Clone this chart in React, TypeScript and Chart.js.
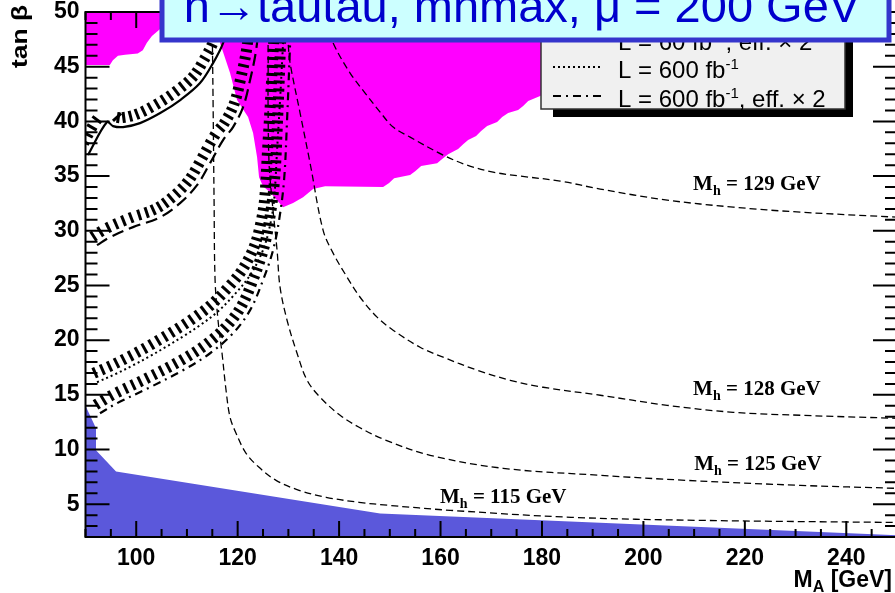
import React, { useEffect, useRef } from "react";
import { Chart, registerables } from "chart.js";

Chart.register(...registerables);

const SANS = '"Liberation Sans", Arial, Helvetica, sans-serif';
const SERIF = '"Liberation Serif", "Times New Roman", serif';

// Axis ranges and labelled ticks
const xRange = [90, 250];
const yRange = [2, 50];
const xTickLabels = [100, 120, 140, 160, 180, 200, 220, 240];
const yTickLabels = [5, 10, 15, 20, 25, 30, 35, 40, 45, 50];

// LEP excluded region (blue)
const lepMA = [90, 92.07, 92.07, 96.02, 148.09, 250, 250, 90];
const lepTanB = [14.0, 11.94, 9.93, 8.0, 4.16, 2.15, 2, 2];

// Theoretically inaccessible region (magenta), upper-left corner
const cornerMA = [90, 90, 94.8, 95.4, 96.4, 97.8, 100.3, 101.3, 102.1, 103.1, 104.6, 106.6];
const cornerTanB = [50, 45.15, 45.15, 45.6, 46.0, 46.1, 46.2, 46.5, 47.2, 47.8, 48.4, 50];

// Theoretically inaccessible region (magenta), central part
const bandMA = [
  116.13, 116.53, 118.5, 119.88, 122.05, 123.04, 123.83, 124.22, 125.0, 126.39, 128.95,
  130.93, 132.9, 134.87, 137.24, 148.68, 149.86, 150.85, 154.0, 155.0, 156.18, 159.33,
  160.32, 161.5, 163.47, 164.46, 165.44, 167.02, 168.0, 169.19, 171.16, 172.15, 173.33,
  175.3, 176.29, 177.28, 179.64, 183.59, 191.48, 199.37, 202.33,
];
const bandTanB = [
  50, 47.16, 44.42, 41.95, 40.39, 38.93, 36.73, 34.9, 34.08, 33.53, 32.16,
  32.53, 33.07, 33.81, 34.08, 33.99, 34.36, 34.81, 35.09, 35.45, 35.91, 36.18,
  36.55, 37.0, 37.47, 37.92, 38.29, 38.66, 39.11, 39.57, 39.94, 40.39, 40.76,
  41.03, 41.4, 41.86, 42.31, 43.41, 46.07, 48.72, 50,
];

// Light Higgs mass contours
const mh115MA = [114.95, 115.15, 115.35, 115.55, 116.13, 116.92, 117.71, 118.5, 119.68, 121.66, 124.22, 127.57, 132.11, 137.44, 143.94, 149.66, 161.89, 185.75, 211.2, 250];
const mh115TanB = [50, 41.95, 32.8, 25.48, 21.82, 18.8, 15.42, 12.95, 11.49, 9.65, 8.37, 7.18, 6.27, 5.63, 5.17, 4.9, 4.44, 3.8, 3.52, 3.33];

const mh125MA = [125.6, 125.99, 125.99, 126.19, 126.78, 127.77, 128.36, 129.74, 131.71, 133.69, 136.25, 140.2, 143.94, 149.27, 157.95, 172.35, 191.48, 208.44, 230.93, 250];
const mh125TanB = [50, 47.16, 41.95, 36.18, 32.8, 28.22, 24.84, 21.82, 18.8, 16.33, 14.78, 13.13, 12.03, 10.84, 9.47, 8.28, 7.64, 7.18, 6.72, 6.45];

const mh128MA = [129.35, 129.94, 130.34, 132.31, 134.28, 136.84, 138.82, 141.58, 144.14, 147.49, 150.65, 155.97, 160.51, 167.22, 173.73, 180.24, 191.48, 204.69, 217.71, 230.93, 250];
const mh128TanB = [50, 47.16, 45.33, 40.76, 36.18, 30.05, 27.95, 25.75, 23.92, 22.1, 20.91, 19.35, 18.44, 17.25, 16.33, 15.69, 14.96, 14.04, 13.4, 13.13, 12.85];

const mh129MA = [136.65, 138.82, 142.17, 145.13, 148.09, 150.65, 154.0, 160.51, 165.25, 170.37, 175.7, 183.59, 191.48, 204.69, 217.71, 230.93, 250];
const mh129TanB = [50, 47.16, 44.42, 42.59, 40.85, 39.48, 38.56, 36.92, 36.0, 35.36, 35.0, 34.54, 33.81, 32.8, 32.16, 31.7, 31.24];

// 5 sigma discovery contours
const lumi60MA = [90.49, 94.24, 95.42, 97.4, 100.75, 104.73, 108.68, 112.58, 115.15, 117.12, 118.9];
const lumi60TanB = [36.92, 39.94, 39.57, 39.48, 39.84, 40.76, 41.95, 43.5, 45.33, 47.16, 50];

const lumi60effMA = [92.27, 94.83, 99.37, 104.73, 108.64, 111.99, 114.56, 117.12, 119.09, 121.07, 122.45, 123.64, 124.42];
const lumi60effTanB = [28.68, 29.41, 30.33, 31.24, 32.53, 34.17, 36.18, 38.29, 39.48, 41.31, 43.78, 46.52, 50];

const lumi600MA = [92.27, 95.82, 99.37, 102.72, 106.07, 109.62, 112.58, 115.94, 119.09, 122.45, 125.0, 126.39, 127.18, 127.77, 128.36, 128.96, 129.35];
const lumi600TanB = [16.15, 16.88, 17.7, 18.53, 19.44, 20.45, 21.36, 22.55, 24.02, 25.94, 28.23, 30.51, 32.8, 37.37, 41.95, 47.16, 50];

const lumi600effMA = [92.86, 96.21, 102.72, 109.23, 114.56, 119.09, 122.45, 125.0, 126.98, 128.17, 129.15, 129.74, 130.34, 130.53];
const lumi600effTanB = [13.31, 14.23, 15.69, 17.25, 18.8, 20.63, 22.74, 25.48, 28.22, 30.97, 34.63, 40.12, 47.16, 50];

// Mass labels: text value, M_A and tan beta at the baseline start
const mhLabelText = ["129", "128", "125", "115"];
const mhLabelMA = [209.8, 209.8, 210.0, 159.9];
const mhLabelTanB = [33.71, 14.96, 8.1, 5.08];

const titleText = "h\u2192tautau, mhmax, \u03bc = 200 GeV";

const toPoints = (xs: number[], ys: number[]) => xs.map((x, i) => ({ x, y: ys[i] }));

type Part = { t: string; size: number; dy?: number; font?: string; weight?: string };

function drawParts(ctx: CanvasRenderingContext2D, parts: Part[], x: number, y: number, align = "left") {
  const fonts = parts.map((p) => `${p.weight ?? "normal"} ${p.size}px ${p.font ?? SANS}`);
  const widths = parts.map((p, i) => {
    ctx.font = fonts[i];
    return ctx.measureText(p.t).width;
  });
  const total = widths.reduce((a, b) => a + b, 0);
  let cx = align === "right" ? x - total : align === "center" ? x - total / 2 : x;
  ctx.textAlign = "left";
  ctx.textBaseline = "alphabetic";
  parts.forEach((p, i) => {
    ctx.font = fonts[i];
    ctx.fillText(p.t, cx, y + (p.dy ?? 0));
    cx += widths[i];
  });
}

// Dense pixel path following the drawn (bezier) line of a dataset
function densePath(points: any[]) {
  const out: { x: number; y: number }[] = [];
  for (let i = 0; i < points.length - 1; i++) {
    const a = points[i];
    const b = points[i + 1];
    const hasCp = a.cp2x !== undefined && b.cp1x !== undefined;
    const n = 16;
    for (let k = 0; k < n; k++) {
      const t = k / n;
      if (hasCp) {
        const mt = 1 - t;
        const x = mt * mt * mt * a.x + 3 * mt * mt * t * a.cp2x + 3 * mt * t * t * b.cp1x + t * t * t * b.x;
        const y = mt * mt * mt * a.y + 3 * mt * mt * t * a.cp2y + 3 * mt * t * t * b.cp1y + t * t * t * b.y;
        out.push({ x, y });
      } else {
        out.push({ x: a.x + (b.x - a.x) * t, y: a.y + (b.y - a.y) * t });
      }
    }
  }
  const last = points[points.length - 1];
  out.push({ x: last.x, y: last.y });
  return out;
}

// Short strokes on the allowed side of a discovery contour
const hatchPlugin = {
  id: "contourHatch",
  afterDatasetDraw(chart: any, args: any) {
    const ds = chart.data.datasets[args.index];
    if (!ds.hatch) return;
    const pts = densePath(args.meta.data);
    const ctx: CanvasRenderingContext2D = chart.ctx;
    const area = chart.chartArea;
    ctx.save();
    ctx.beginPath();
    ctx.rect(area.left, area.top, area.right - area.left, area.bottom - area.top);
    ctx.clip();
    ctx.strokeStyle = "#000";
    ctx.lineWidth = 3;
    ctx.lineCap = "butt";
    const step = 8;
    const off0 = 4;
    const off1 = 15;
    let carry = 2;
    for (let i = 0; i < pts.length - 1; i++) {
      const a = pts[i];
      const b = pts[i + 1];
      const dx = b.x - a.x;
      const dy = b.y - a.y;
      const len = Math.hypot(dx, dy);
      if (len < 1e-6) continue;
      const ux = dx / len;
      const uy = dy / len;
      const nx = uy;
      const ny = -ux;
      let s = carry;
      while (s < len) {
        const px = a.x + ux * s;
        const py = a.y + uy * s;
        ctx.beginPath();
        ctx.moveTo(px + nx * off0, py + ny * off0);
        ctx.lineTo(px + nx * off1, py + ny * off1);
        ctx.stroke();
        s += step;
      }
      carry = s - len;
    }
    ctx.restore();
  },
};

// Frame, inner ticks, labels, legend and title box
const decorPlugin = {
  id: "rootDecor",
  afterDraw(chart: any) {
    const ctx: CanvasRenderingContext2D = chart.ctx;
    const xs = chart.scales.x;
    const ys = chart.scales.y;
    const { left, right, top, bottom } = chart.chartArea;
    ctx.save();
    ctx.strokeStyle = "#000";
    ctx.fillStyle = "#000";
    ctx.lineWidth = 2;

    // x ticks: major every 20, minor every 5
    for (let v = xRange[0]; v <= xRange[1]; v += 5) {
      const px = xs.getPixelForValue(v);
      const len = v % 20 === 0 ? 16 : 8;
      ctx.beginPath();
      ctx.moveTo(px, bottom);
      ctx.lineTo(px, bottom - len);
      ctx.moveTo(px, top);
      ctx.lineTo(px, top + len);
      ctx.stroke();
    }
    // y ticks: major every 5, minor every 1
    for (let v = yRange[0]; v <= yRange[1]; v += 1) {
      const py = ys.getPixelForValue(v);
      const len = v % 5 === 0 ? 24 : 12;
      ctx.beginPath();
      ctx.moveTo(left, py);
      ctx.lineTo(left + len, py);
      ctx.moveTo(right, py);
      ctx.lineTo(right - len, py);
      ctx.stroke();
    }
    ctx.strokeRect(left, top, right - left, bottom - top);

    // Mass contour labels
    mhLabelText.forEach((m, i) => {
      const px = xs.getPixelForValue(mhLabelMA[i]);
      const py = ys.getPixelForValue(mhLabelTanB[i]);
      drawParts(
        ctx,
        [
          { t: "M", size: 21, weight: "bold", font: SERIF },
          { t: "h", size: 14, dy: 5, weight: "bold", font: SERIF },
          { t: ` = ${m} GeV`, size: 21, weight: "bold", font: SERIF },
        ],
        px,
        py
      );
    });

    // Axis titles
    drawParts(
      ctx,
      [
        { t: "M", size: 23, weight: "bold" },
        { t: "A", size: 16, dy: 5, weight: "bold" },
        { t: " [GeV]", size: 23, weight: "bold" },
      ],
      892,
      587,
      "right"
    );
    ctx.save();
    ctx.translate(27, 5);
    ctx.rotate(-Math.PI / 2);
    ctx.scale(1.2, 1);
    ctx.font = `bold 22px ${SANS}`;
    ctx.textAlign = "right";
    ctx.textBaseline = "alphabetic";
    ctx.fillText("tan \u03b2", 0, 0);
    ctx.restore();

    // Legend box with shadow
    ctx.fillStyle = "#000";
    ctx.fillRect(553, -10, 300, 127);
    ctx.fillStyle = "#f0f0f0";
    ctx.fillRect(541, -20, 304, 129);
    ctx.strokeStyle = "#333";
    ctx.lineWidth = 1.5;
    ctx.strokeRect(541, -20, 304, 129);

    const entries = [
      { dash: [12, 6], eff: true, lumi: "60", y: 50 },
      { dash: [2, 3], eff: false, lumi: "600", y: 78 },
      { dash: [8, 5, 2, 5], eff: true, lumi: "600", y: 107 },
    ];
    entries.forEach((e) => {
      ctx.strokeStyle = "#000";
      ctx.lineWidth = 2;
      ctx.setLineDash(e.dash);
      ctx.beginPath();
      ctx.moveTo(553, e.y - 11);
      ctx.lineTo(603, e.y - 11);
      ctx.stroke();
      ctx.setLineDash([]);
      ctx.fillStyle = "#000";
      const parts: Part[] = [
        { t: `L = ${e.lumi} fb`, size: 24 },
        { t: "-1", size: 15, dy: -9 },
      ];
      if (e.eff) parts.push({ t: ", eff. \u00d7 2", size: 24 });
      drawParts(ctx, parts, 618, e.y);
    });

    // Title box
    ctx.fillStyle = "#ccffff";
    ctx.fillRect(162, -40, 727, 80);
    ctx.strokeStyle = "#3535cc";
    ctx.lineWidth = 5;
    ctx.strokeRect(162, -40, 727, 80);
    ctx.fillStyle = "#0000cc";
    ctx.font = `47px ${SANS}`;
    ctx.textAlign = "center";
    ctx.textBaseline = "alphabetic";
    ctx.fillText(titleText, 522, 22);

    ctx.restore();
  },
};

export default function App() {
  const ref = useRef<HTMLCanvasElement>(null);

  useEffect(() => {
    const tickFont = { family: SANS, size: 23, weight: "bold" as const };
    const region = (xs: number[], ys: number[], color: string, label: string) => ({
      label,
      data: toPoints(xs, ys),
      backgroundColor: color,
      borderColor: color,
      borderWidth: 0,
      fill: "shape" as const,
      tension: 0,
      pointRadius: 0,
      order: 30,
    });
    const mhLine = (xs: number[], ys: number[], label: string) => ({
      label,
      data: toPoints(xs, ys),
      borderColor: "#000",
      borderWidth: 1.3,
      borderDash: [7, 4],
      fill: false,
      tension: 0.35,
      pointRadius: 0,
      order: 20,
    });
    const discovery = (xs: number[], ys: number[], dash: number[], label: string, width: number) => ({
      label,
      data: toPoints(xs, ys),
      borderColor: "#000",
      borderWidth: width,
      borderDash: dash,
      fill: false,
      tension: 0.35,
      pointRadius: 0,
      hatch: true,
      order: 10,
    });

    const chart = new Chart(ref.current as HTMLCanvasElement, {
      type: "line",
      data: {
        datasets: [
          region(lepMA, lepTanB, "#5b58db", "LEP excluded"),
          region(cornerMA, cornerTanB, "#ff00ff", "inaccessible (corner)"),
          region(bandMA, bandTanB, "#ff00ff", "inaccessible"),
          mhLine(mh115MA, mh115TanB, "Mh = 115 GeV"),
          mhLine(mh125MA, mh125TanB, "Mh = 125 GeV"),
          mhLine(mh128MA, mh128TanB, "Mh = 128 GeV"),
          mhLine(mh129MA, mh129TanB, "Mh = 129 GeV"),
          discovery(lumi60MA, lumi60TanB, [], "L = 60 fb-1", 2.2),
          discovery(lumi60effMA, lumi60effTanB, [12, 6], "L = 60 fb-1, eff. x 2", 2.2),
          discovery(lumi600MA, lumi600TanB, [2, 3], "L = 600 fb-1", 2),
          discovery(lumi600effMA, lumi600effTanB, [8, 5, 2, 5], "L = 600 fb-1, eff. x 2", 2.2),
        ] as any,
      },
      options: {
        animation: false,
        responsive: false,
        maintainAspectRatio: false,
        layout: { padding: { top: 12, right: 1, left: 0, bottom: 0 } },
        plugins: { legend: { display: false }, tooltip: { enabled: false } },
        scales: {
          x: {
            type: "linear",
            min: xRange[0],
            max: xRange[1],
            grid: { display: false, drawTicks: false },
            border: { display: false },
            afterBuildTicks: (s: any) => {
              s.ticks = xTickLabels.map((v) => ({ value: v }));
            },
            afterFit: (s: any) => {
              s.height = 56;
              s.paddingLeft = 0;
              s.paddingRight = 0;
            },
            ticks: { font: tickFont, color: "#000", padding: 8, maxRotation: 0, autoSkip: false },
          },
          y: {
            type: "linear",
            min: yRange[0],
            max: yRange[1],
            grid: { display: false, drawTicks: false },
            border: { display: false },
            afterBuildTicks: (s: any) => {
              s.ticks = yTickLabels.map((v) => ({ value: v }));
            },
            afterFit: (s: any) => {
              s.width = 85.5;
              s.paddingTop = 0;
              s.paddingBottom = 0;
            },
            ticks: { font: tickFont, color: "#000", padding: 6, autoSkip: false },
          },
        },
      } as any,
      plugins: [hatchPlugin, decorPlugin],
    });
    return () => chart.destroy();
  }, []);

  return (
    <div
      style={{
        position: "fixed",
        left: 0,
        top: 0,
        width: 895,
        height: 593,
        overflow: "hidden",
        background: "#fff",
      }}
    >
      <canvas ref={ref} width={898} height={593} style={{ display: "block", width: 898, height: 593 }} />
    </div>
  );
}
